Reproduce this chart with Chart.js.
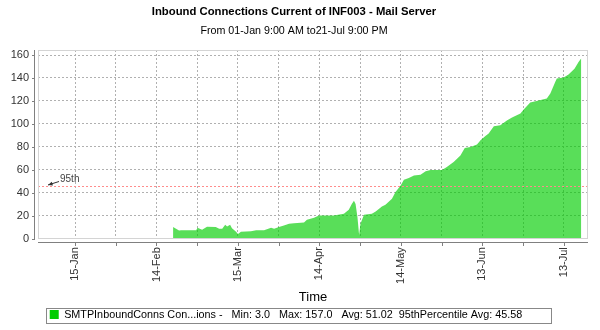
<!DOCTYPE html>
<html>
<head>
    <title>Inbound Connections Current of INF003 - Mail Server</title>
    <script src="https://cdn.jsdelivr.net/npm/chart.js@4"></script>
    <style>
        body { margin: 0; background: #fff; }
    </style>
</head>
<body>
<canvas id="connChart" width="600" height="330"></canvas>
<script>
    // Day of the (leap) year, 0 = 01-Jan 00:00
    const days = [50.1, 51.2, 52.3, 53.1, 58.6, 59.1, 60.8, 62.6, 65.8, 67.1, 68.2, 69.3, 70.0, 71.1, 71.8,
        73.3, 74.0, 75.1, 78.8, 80.7, 83.6, 86.2, 87.3, 89.1, 90.9, 92.8, 94.6, 98.3, 99.4, 102.0,
        103.8, 109.3, 113.0, 114.8, 115.9, 116.7, 117.3, 118.0, 118.6, 119.1, 120.4, 123.3, 124.7, 127.0,
        128.3, 130.7, 132.0, 133.9, 135.1, 136.9, 138.8, 141.2, 143.1, 144.9, 149.1, 150.9, 153.4, 155.9,
        157.5, 159.6, 162.0, 163.3, 165.1, 166.3, 168.2, 170.6, 173.0, 174.9, 178.0, 179.2, 181.6, 184.7,
        187.7, 189.0, 190.8, 191.4, 193.9, 195.7, 197.9, 199.4, 200.2, 200.4];
    const conns = [10, 8.5, 7, 7.3, 7.3, 9.3, 7.6, 10.2, 10, 8.5, 8.5, 12, 10.5, 12, 9,
        6, 4, 6, 6.3, 7.3, 7.3, 9.3, 8.5, 10, 11.4, 12.8, 13.4, 14, 16.3, 18,
        20, 20, 21.6, 25, 30, 33, 30, 18.6, 3, 12.8, 20.7, 21.6, 23.6, 28,
        29.5, 34.7, 40.5, 46.3, 51.3, 52.7, 55, 55.7, 58.6, 59.7, 59.7, 62.3, 66.7, 72.5,
        79, 79.8, 82, 85.7, 89.4, 91.5, 97.9, 98.8, 103, 105.5, 109, 112.5, 118.6, 120.3,
        122, 126.5, 136.6, 139.6, 140.5, 143, 148, 154, 156.5, 157];

    // x axis: labelled ticks every 30 days, extra grid lines half way
    const tickDays = [14, 44, 74, 104, 134, 164, 194];
    const tickLabels = ['15-Jan', '14-Feb', '15-Mar', '14-Apr', '14-May', '13-Jun', '13-Jul'];
    const minorDays = [29, 59, 89, 119, 149, 179];
    const yTicks = [0, 20, 40, 60, 80, 100, 120, 140, 160];

    // Range is 01-Jan 9:00 AM to 21-Jul 9:00 PM
    const X_MIN = 0.375;
    const X_MAX = 202.875;

    const SERIES_NAME = 'SMTPInboundConns Con...ions';
    const MIN_VAL = 3.0;
    const MAX_VAL = 157.0;
    const AVG_VAL = 51.02;
    const P95 = 45.58;

    const legendText = `${SERIES_NAME} -   Min: ${MIN_VAL.toFixed(1)}   Max: ${MAX_VAL.toFixed(1)}   Avg: ${AVG_VAL.toFixed(2)}  95thPercentile Avg: ${P95.toFixed(2)}`;

    Chart.defaults.font.family = "'Liberation Sans', Arial, sans-serif";
    Chart.defaults.color = '#333';

    const LEGEND_SHIFT = -8; // legend sits a bit left of centre

    // Light plot border, axis lines set a little off the plot, and a box round the legend
    const axisFrame = {
        id: 'axisFrame',
        afterUpdate(chart) {
            const lg = chart.legend;
            lg.left += LEGEND_SHIFT;
            lg.right += LEGEND_SHIFT;
            lg.legendHitBoxes.forEach(hb => { hb.left += LEGEND_SHIFT; });
        },
        afterDraw(chart) {
            const {ctx, chartArea: a, scales: {x, y}} = chart;
            const left = Math.round(a.left), right = Math.round(a.right);
            const top = Math.round(a.top), bottom = Math.round(a.bottom);
            ctx.save();
            ctx.lineWidth = 1;
            ctx.strokeStyle = '#d4d4d4';
            ctx.strokeRect(left + 0.5, top + 0.5, right - left - 1, bottom - top - 1);

            ctx.strokeStyle = '#808080';
            ctx.beginPath();
            ctx.moveTo(left - 3.5, top);
            ctx.lineTo(left - 3.5, bottom);
            y.ticks.forEach(t => {
                const py = Math.round(y.getPixelForValue(t.value)) + 0.5;
                ctx.moveTo(left - 6, py);
                ctx.lineTo(left - 3, py);
            });
            ctx.moveTo(left, bottom + 3.5);
            ctx.lineTo(right, bottom + 3.5);
            x.ticks.forEach(t => {
                const px = Math.round(x.getPixelForValue(t.value)) + 0.5;
                ctx.moveTo(px, bottom + 4);
                ctx.lineTo(px, bottom + 7);
            });
            ctx.stroke();

            const hb = chart.legend.legendHitBoxes[0];
            if (hb) {
                ctx.strokeStyle = '#888';
                ctx.strokeRect(Math.round(hb.left) - 3.5, Math.round(hb.top) - 0.5, Math.round(hb.width) + 32, 15);
            }
            ctx.restore();
        }
    };

    // 95th percentile line with its pointer label
    const percentileLine = {
        id: 'percentileLine',
        afterDatasetsDraw(chart) {
            const {ctx, chartArea: a, scales: {y}} = chart;
            const py = Math.round(y.getPixelForValue(P95)) + 0.5;
            ctx.save();
            ctx.strokeStyle = '#ff8c8c';
            ctx.lineWidth = 1;
            ctx.setLineDash([2, 2]);
            ctx.beginPath();
            ctx.moveTo(a.left, py);
            ctx.lineTo(a.right, py);
            ctx.stroke();
            ctx.setLineDash([]);

            const tipX = a.left + 10, tipY = py - 1.5;
            const tailX = a.left + 21, tailY = py - 5;
            ctx.strokeStyle = '#333';
            ctx.fillStyle = '#333';
            ctx.beginPath();
            ctx.moveTo(tailX, tailY);
            ctx.lineTo(tipX, tipY);
            ctx.stroke();
            const ang = Math.atan2(tailY - tipY, tailX - tipX);
            ctx.beginPath();
            ctx.moveTo(tipX, tipY);
            ctx.lineTo(tipX + 5 * Math.cos(ang - 0.4), tipY + 5 * Math.sin(ang - 0.4));
            ctx.lineTo(tipX + 5 * Math.cos(ang + 0.4), tipY + 5 * Math.sin(ang + 0.4));
            ctx.closePath();
            ctx.fill();

            ctx.font = "10px 'Liberation Sans', Arial, sans-serif";
            ctx.textBaseline = 'middle';
            ctx.textAlign = 'left';
            ctx.fillStyle = '#444';
            ctx.fillText('95th', tailX + 1, py - 7);
            ctx.restore();
        }
    };

    const ctx = document.getElementById('connChart').getContext('2d');
    new Chart(ctx, {
        type: 'line',
        data: {
            datasets: [{
                label: SERIES_NAME,
                data: days.map((d, i) => ({x: d, y: conns[i]})),
                backgroundColor: 'rgba(0, 204, 0, 0.65)',
                borderColor: 'rgba(0, 0, 0, 0)',
                borderWidth: 0,
                pointRadius: 0,
                tension: 0,
                fill: 'origin'
            }]
        },
        plugins: [axisFrame, percentileLine],
        options: {
            responsive: false,
            animation: false,
            devicePixelRatio: 1,
            layout: {
                padding: {left: 0, right: 12, top: 0, bottom: 0}
            },
            plugins: {
                title: {
                    display: true,
                    text: 'Inbound Connections Current of INF003 - Mail Server',
                    color: '#000',
                    font: {size: 11.3, weight: 'bold'},
                    padding: {top: 5, bottom: 4}
                },
                subtitle: {
                    display: true,
                    text: 'From 01-Jan 9:00 AM to21-Jul 9:00 PM',
                    color: '#000',
                    font: {size: 10.7},
                    padding: {top: 2, bottom: 12.6}
                },
                legend: {
                    position: 'bottom',
                    labels: {
                        boxWidth: 9,
                        boxHeight: 9,
                        padding: 4,
                        color: '#000',
                        font: {size: 10.8},
                        generateLabels: () => [{
                            text: legendText,
                            fillStyle: '#00cc00',
                            strokeStyle: '#00cc00',
                            lineWidth: 0,
                            hidden: false,
                            datasetIndex: 0
                        }]
                    }
                },
                tooltip: {enabled: false}
            },
            scales: {
                x: {
                    type: 'linear',
                    min: X_MIN,
                    max: X_MAX,
                    afterBuildTicks: (scale) => {
                        scale.ticks = tickDays.concat(minorDays).sort((a, b) => a - b).map(v => ({value: v}));
                    },
                    afterFit: (scale) => { scale.height = 66; },
                    ticks: {
                        autoSkip: false,
                        minRotation: 90,
                        maxRotation: 90,
                        padding: 8,
                        color: '#333',
                        font: {size: 11},
                        callback: (value) => {
                            const i = tickDays.indexOf(value);
                            return i >= 0 ? tickLabels[i] : '';
                        }
                    },
                    grid: {
                        color: '#b0b0b0',
                        drawTicks: false
                    },
                    border: {display: false, dash: [2, 2]},
                    title: {
                        display: true,
                        text: 'Time',
                        color: '#000',
                        font: {size: 13},
                        padding: {top: 0, bottom: 0}
                    }
                },
                y: {
                    min: -0.6,
                    max: 164.4,
                    afterBuildTicks: (scale) => {
                        scale.ticks = yTicks.map(v => ({value: v}));
                    },
                    afterFit: (scale) => { scale.width = 38; },
                    ticks: {
                        padding: 9,
                        color: '#333',
                        font: {size: 11}
                    },
                    grid: {
                        color: '#b0b0b0',
                        drawTicks: false
                    },
                    border: {display: false, dash: [2, 2]}
                }
            }
        }
    });
</script>
</body>
</html>
